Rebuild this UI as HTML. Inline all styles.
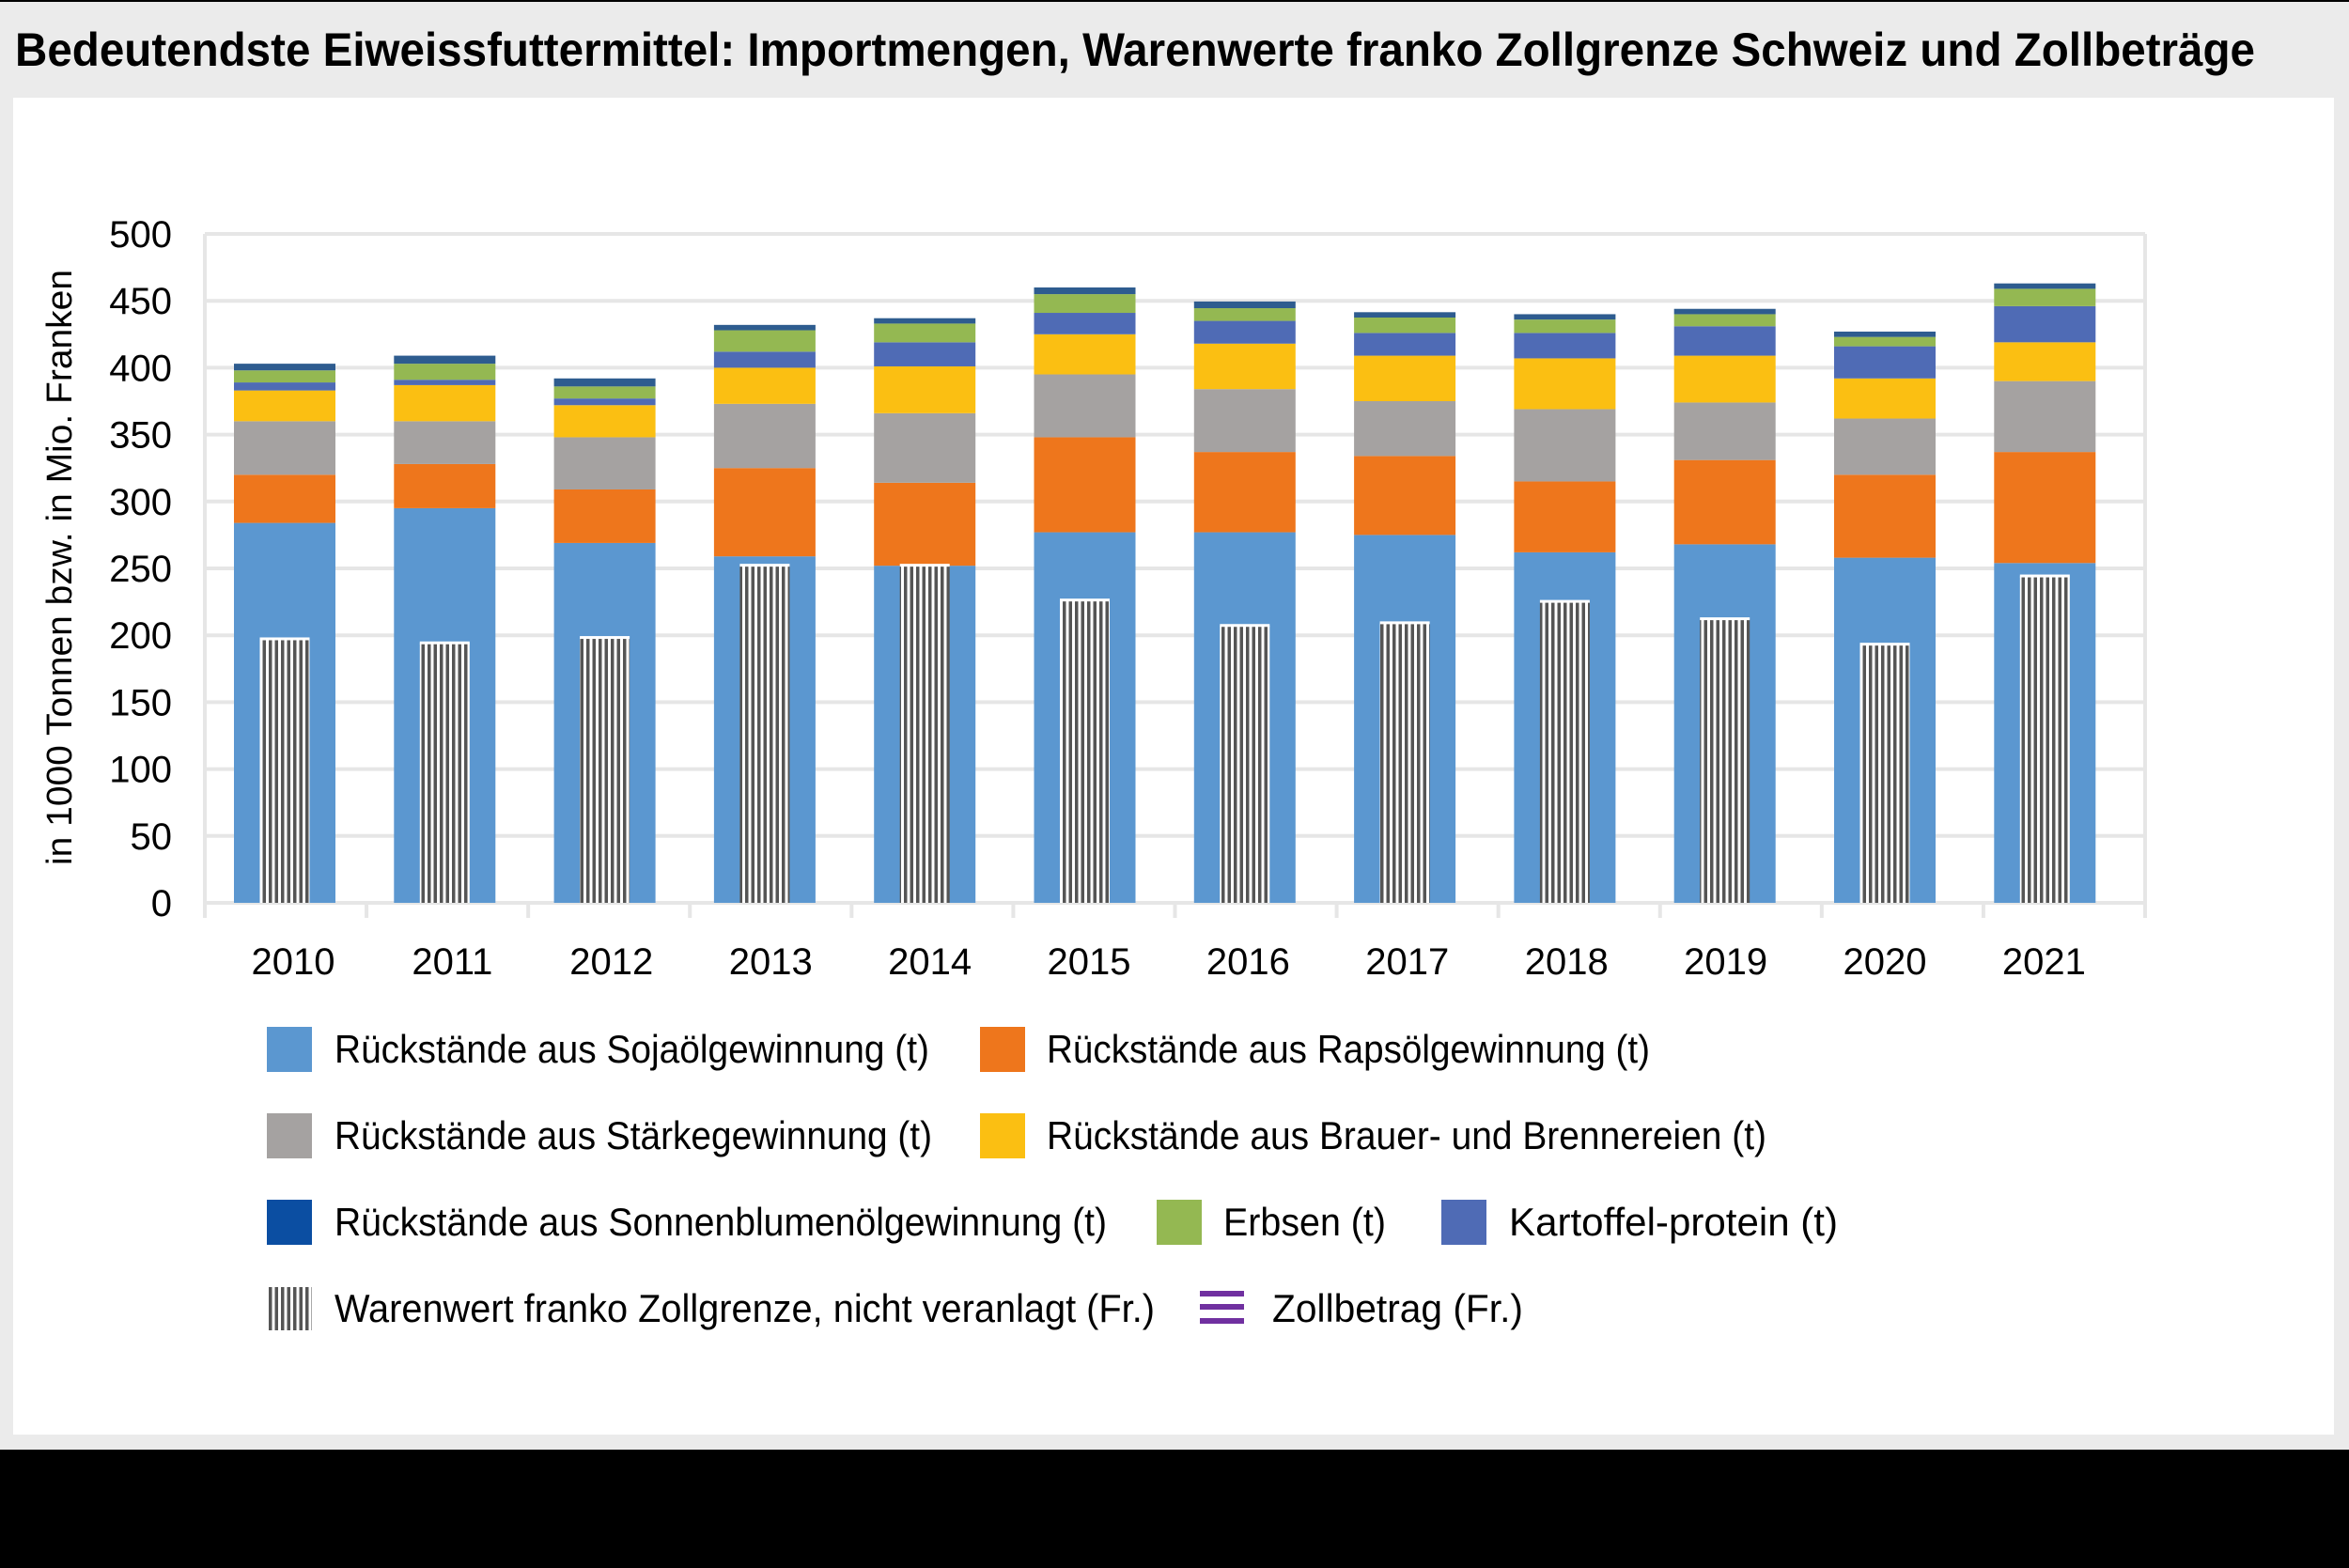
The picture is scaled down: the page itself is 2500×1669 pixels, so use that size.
<!DOCTYPE html>
<html><head><meta charset="utf-8"><style>
html,body{margin:0;padding:0;background:#000;}
svg{display:block;font-family:"Liberation Sans Narrow","Liberation Sans",sans-serif;}
</style></head><body>
<svg id="chart" width="2500" height="1669" viewBox="0 0 2500 1669" xmlns="http://www.w3.org/2000/svg">
<defs>
<pattern id="hatch" patternUnits="userSpaceOnUse" width="6.5" height="10"><rect width="6.5" height="10" fill="#fff"/><rect width="3.5" height="10" fill="#555"/></pattern>
</defs>
<rect x="0" y="0" width="2500" height="1543" fill="#ebebeb"/>
<rect x="0" y="0" width="2500" height="2" fill="#000"/>
<text x="16" y="70" font-size="50" font-weight="bold" fill="#000" textLength="2384" lengthAdjust="spacingAndGlyphs">Bedeutendste Eiweissfuttermittel: Importmengen, Warenwerte franko Zollgrenze Schweiz und Zollbeträge</text>
<rect x="14" y="104" width="2470" height="1423" fill="#fff"/>
<g id="grid"></g>
<g id="bars"></g>
<g id="axes"></g>
<text transform="translate(76,604) rotate(-90)" text-anchor="middle" font-size="38" fill="#000" textLength="634" lengthAdjust="spacingAndGlyphs">in 1000 Tonnen bzw. in Mio. Franken</text>
<g id="legend"></g>
</svg>
<script>
const categories=["2010","2011","2012","2013","2014","2015","2016","2017","2018","2019","2020","2021"];
const soja=[284,295,269,259,252,277,277,275,262,268,258,254];
const raps=[36,33,40,66,62,71,60,59,53,63,62,83];
const staerke=[40,32,39,48,52,47,47,41,54,43,42,53];
const brauer=[23,27,24,27,35,30,34,34,38,35,30,29];
const kartoffel=[6,4,5,12,18,16,17,17,19,22,24,27];
const erbsen=[9,12,9,16,14,14,9.5,11.5,10,9,7,13];
const sonnenblume=[5,6,6,4,4,5,5,4,4,4,4,4];
const warenwert=[197,194,198,252,252,226,207,209,225,212,193,244];
const zollbetrag=[0,0,0,0,0,0,0,0,0,0,0,0];
const yTicks=[0,50,100,150,200,250,300,350,400,450,500];

const NS="http://www.w3.org/2000/svg";
const X0=218,X1=2283,Y0=961,Y1=249,YMAX=500;
const band=(X1-X0)/categories.length;
const BAND2=170.3,START=303;
const y=v=>Y0-(v/YMAX)*(Y0-Y1);
const xc=i=>START+BAND2*i;
const xl=i=>312+169.4*i;
function el(tag,attrs,parent){const e=document.createElementNS(NS,tag);for(const k in attrs)e.setAttribute(k,attrs[k]);parent.appendChild(e);return e;}
const grid=document.getElementById('grid'),bars=document.getElementById('bars'),axes=document.getElementById('axes'),legend=document.getElementById('legend');

yTicks.forEach(t=>{
  const l=el('line',{x1:X0,x2:X1,y1:y(t),y2:y(t),stroke:'#e6e6e6','stroke-width':4},grid);
  
  
  const tx=el('text',{x:183,y:y(t)+14,'text-anchor':'end','font-size':40,fill:'#000'},axes);
  tx.textContent=t;
  
  
});
const vl=el('line',{x1:X0,x2:X0,y1:Y1,y2:Y0,stroke:'#e6e6e6','stroke-width':4},grid);


const vr=el('line',{x1:X1,x2:X1,y1:Y1,y2:Y0,stroke:'#e6e6e6','stroke-width':4},grid);


for(let i=0;i<=categories.length;i++){
  const tk=el('line',{x1:X0+band*i,x2:X0+band*i,y1:Y0,y2:Y0+16,stroke:'#e6e6e6','stroke-width':4},grid);
  
  
}

const series=[
 {name:'soja',data:soja,color:'#5b97d0'},
 {name:'raps',data:raps,color:'#ee761c'},
 {name:'staerke',data:staerke,color:'#a5a2a1'},
 {name:'brauer',data:brauer,color:'#fbbf12'},
 {name:'kartoffel',data:kartoffel,color:'#4f6bb5'},
 {name:'erbsen',data:erbsen,color:'#94b852'},
 {name:'sonnenblume',data:sonnenblume,color:'#2e5c8f'}
];
const BW=108,HW=53;
categories.forEach((c,i)=>{
  let cum=0;
  series.forEach(s=>{
    const v=s.data[i];
    const r=el('rect',{x:xc(i)-BW/2,y:y(cum+v),width:BW,height:y(cum)-y(cum+v),fill:s.color},bars);
    
    
    cum+=v;
  });
  const h=el('rect',{x:xc(i)-HW/2,y:y(warenwert[i]),width:HW,height:Y0-y(warenwert[i]),fill:'url(#hatch)'},bars);
  
  
  const ht=el('rect',{x:xc(i)-HW/2,y:y(warenwert[i])-2,width:HW,height:3,fill:'#fff'},bars);
  
  
  const z=el('rect',{x:xc(i)-HW/2,y:y(zollbetrag[i]),width:HW,height:Y0-y(zollbetrag[i]),fill:'#7030a0'},bars);
  
  
  const lt=el('text',{x:xl(i),y:1037,'text-anchor':'middle','font-size':40,fill:'#000'},axes);
  lt.textContent=c;
  
  
});

const legendItems=[
 {t:'Rückstände aus Sojaölgewinnung (t)',c:'#5b97d0',sx:284,tx:356,row:0,w:633},
 {t:'Rückstände aus Rapsölgewinnung (t)',c:'#ee761c',sx:1043,tx:1114,row:0,w:642},
 {t:'Rückstände aus Stärkegewinnung (t)',c:'#a5a2a1',sx:284,tx:356,row:1,w:636},
 {t:'Rückstände aus Brauer- und Brennereien (t)',c:'#fbbf12',sx:1043,tx:1114,row:1,w:766},
 {t:'Rückstände aus Sonnenblumenölgewinnung (t)',c:'#0b4ea2',sx:284,tx:356,row:2,w:822},
 {t:'Erbsen (t)',c:'#94b852',sx:1231,tx:1302,row:2,w:173},
 {t:'Kartoffel-protein (t)',c:'#4f6bb5',sx:1534,tx:1606,row:2,w:350},
 {t:'Warenwert franko Zollgrenze, nicht veranlagt (Fr.)',c:'hatch',sx:284,tx:356,row:3,w:873},
 {t:'Zollbetrag (Fr.)',c:'zoll',sx:1277,tx:1354,row:3,w:267}
];
const rowY=[1117,1209,1301,1393];
legendItems.forEach((it,k)=>{
  const cy=rowY[it.row];
  const g=el('g',{},legend);
  
  
  if(it.c==='hatch'){
    el('rect',{x:it.sx,y:cy-23,width:48,height:46,fill:'url(#hatch)'},g);
  }else if(it.c==='zoll'){
    [ -16,-2,13 ].forEach(o=>el('rect',{x:it.sx,y:cy+o-3,width:47,height:6,fill:'#7030a0'},g));
  }else{
    el('rect',{x:it.sx,y:cy-24,width:48,height:48,fill:it.c},g);
  }
  const t=el('text',{x:it.tx,y:cy+14,'font-size':42,fill:'#000',textLength:it.w,lengthAdjust:'spacingAndGlyphs'},g);
  t.textContent=it.t;
});
</script>
</body></html>
